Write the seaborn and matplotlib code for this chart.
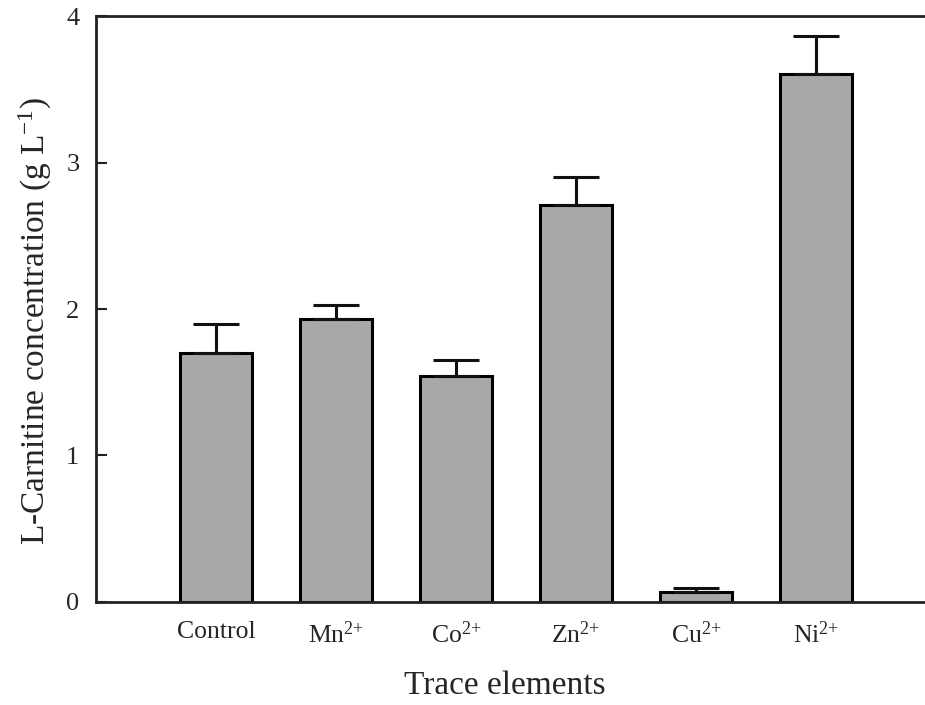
import matplotlib
matplotlib.use("Agg")
import matplotlib.pyplot as plt
import numpy as np
import pandas as pd
import seaborn as sns

# L-carnitine production with different trace elements
categories = ["Control", "Mn$^{2{+}}$", "Co$^{2{+}}$", "Zn$^{2{+}}$", "Cu$^{2{+}}$", "Ni$^{2{+}}$"]
concentration = [1.70, 1.93, 1.54, 2.71, 0.065, 3.61]
upper_error = [0.20, 0.10, 0.11, 0.19, 0.025, 0.26]
y_ticks = [0, 1, 2, 3, 4]

sns.set_theme(style="white")
plt.rcParams["font.family"] = ["Liberation Serif", "DejaVu Serif"]
plt.rcParams["mathtext.fontset"] = "custom"
plt.rcParams["mathtext.rm"] = "Liberation Serif"
plt.rcParams["mathtext.it"] = "Liberation Serif:italic"
plt.rcParams["mathtext.default"] = "rm"

df = pd.DataFrame({"element": categories, "conc": concentration})

fig = plt.figure(figsize=(9.25, 7.05), dpi=100)
ax = fig.add_axes([0.1038, 0.1468, 0.8962, 0.8298])

sns.barplot(data=df, x="element", y="conc", order=categories, color="#a8a8a8",
            saturation=1, width=0.6, edgecolor="black", linewidth=2.2,
            errorbar=None, ax=ax)

x = np.arange(len(categories))
ax.errorbar(x, concentration, yerr=[np.zeros(len(x)), upper_error], fmt="none",
            ecolor="#111111", elinewidth=2.2, capsize=16.5, capthick=2.2, zorder=3)

ax.set_xlim(-1, 5.91)
ax.set_ylim(0, 4)
ax.set_yticks(y_ticks)
ax.set_yticklabels([str(t) for t in y_ticks], fontsize=19)
ax.tick_params(axis="y", direction="in", length=8, width=1.5, color="#222222",
               pad=12, left=True)
ax.tick_params(axis="x", length=0, pad=14, labelsize=18.5)

for side in ["left", "top", "bottom"]:
    ax.spines[side].set_visible(True)
    ax.spines[side].set_color("#222222")
    ax.spines[side].set_linewidth(2.0)
ax.spines["right"].set_visible(False)

ax.set_xlabel("Trace elements", fontsize=24)
ax.set_ylabel("L-Carnitine concentration (g L$^{-1}$)", fontsize=24)
ax.xaxis.set_label_coords(0.493, -0.118)
ax.yaxis.set_label_coords(-0.0736, 0.48)
ax.xaxis.label.set_verticalalignment("top")
ax.yaxis.label.set_verticalalignment("center")

fig.savefig("out.png", dpi=100, facecolor="white")
